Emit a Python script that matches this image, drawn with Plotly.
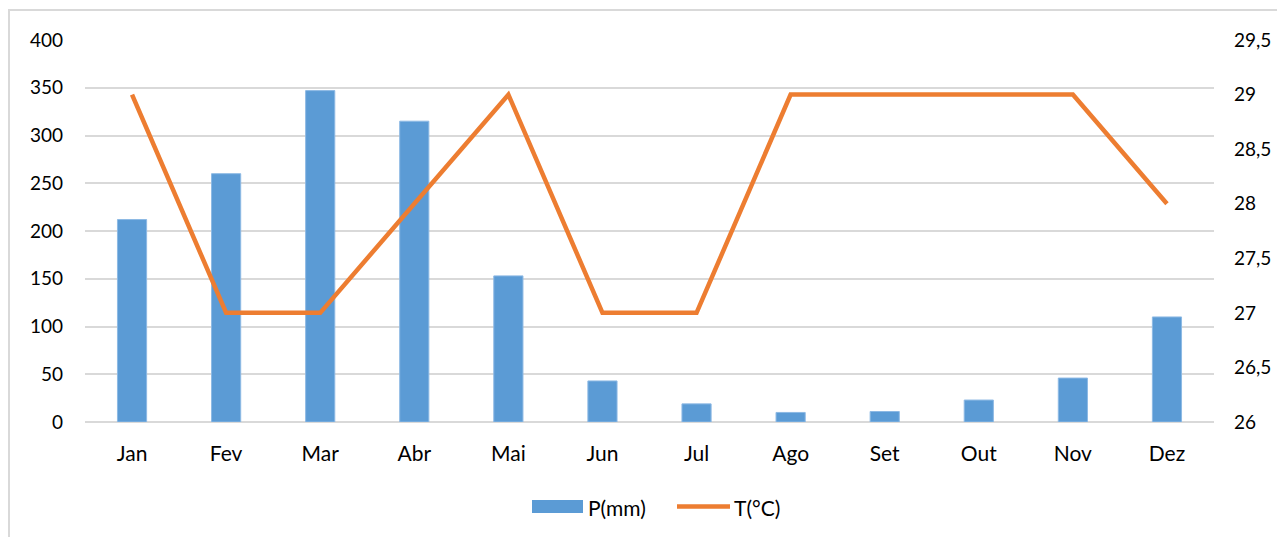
import plotly.graph_objects as go

months = ["Jan", "Fev", "Mar", "Abr", "Mai", "Jun", "Jul", "Ago", "Set", "Out", "Nov", "Dez"]
precip_mm = [212, 260, 347, 315, 153, 43, 19, 10, 11, 23, 46, 110]
temp_c = [29, 27, 27, 28, 29, 27, 27, 29, 29, 29, 29, 28]

FONT = "Lato"
BAR_C = "#5B9BD5"
LINE_C = "#ED7D31"

fig = go.Figure()
fig.add_trace(go.Bar(x=months, y=precip_mm, name="P(mm)", showlegend=False,
                     marker=dict(color=BAR_C, line=dict(color="#8DB9E4", width=1))))
fig.add_trace(go.Scatter(x=months, y=temp_c, name="T(°C)", mode="lines", yaxis="y2", showlegend=False,
                         line=dict(color=LINE_C, width=4.5)))

# plot area: 1129 px wide, 382 px tall (in paper units)
W, H = 1129.0, 382.0
def px(xi):  # image x -> paper x
    return (xi - 85) / W
def py(yi):  # image y -> paper y
    return (422 - yi) / H

shapes = [
    dict(type="rect", xref="paper", yref="paper", x0=px(9), y0=-0.5, x1=1.2, y1=py(10),
         line=dict(color="#D9D9D9", width=2), layer="below"),
    # legend keys
    dict(type="rect", xref="paper", yref="paper", x0=px(532), x1=px(583), y0=py(513), y1=py(500),
         line=dict(width=0), fillcolor=BAR_C),
    dict(type="line", xref="paper", yref="paper", x0=px(677), x1=px(730), y0=py(506.5), y1=py(506.5),
         line=dict(color=LINE_C, width=4.5)),
]
annotations = [
    dict(xref="paper", yref="paper", x=px(586), y=py(507), text="P(mm)", showarrow=False,
         xanchor="left", yanchor="middle", font=dict(size=21)),
    dict(xref="paper", yref="paper", x=px(732), y=py(507), text="T(°C)", showarrow=False,
         xanchor="left", yanchor="middle", font=dict(size=21)),
]

fig.update_layout(
    width=1277, height=529,
    margin=dict(l=77, r=71, t=32, b=115),
    paper_bgcolor="white", plot_bgcolor="white",
    separators=", ",
    font=dict(family=FONT, size=19, color="#000000"),
    bargap=0.69,
    showlegend=False,
    xaxis=dict(showgrid=False, showline=False, ticks="", ticklabelstandoff=17,
               tickfont=dict(size=21)),
    yaxis=dict(range=[0, 400], dtick=50, showgrid=True, gridcolor="#D9D9D9", gridwidth=2,
               zeroline=True, zerolinecolor="#D9D9D9", zerolinewidth=2, ticks="", ticklabelstandoff=21),
    yaxis2=dict(range=[26, 29.5], dtick=0.5, overlaying="y", side="right", showgrid=False,
                zeroline=False, ticks="", ticklabelstandoff=19, tickformat=".1~f"),
    shapes=shapes,
    annotations=annotations,
)
fig.write_html("out.html")
